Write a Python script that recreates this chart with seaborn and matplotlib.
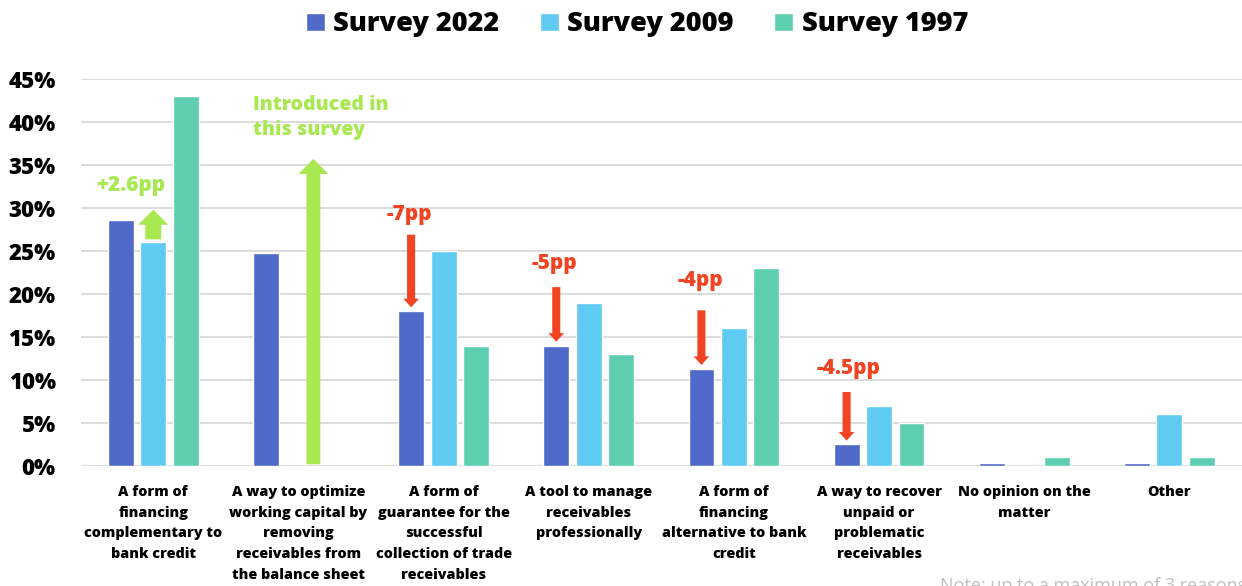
import matplotlib
matplotlib.use("Agg")
import matplotlib.pyplot as plt
from matplotlib.ticker import FuncFormatter, MultipleLocator
import numpy as np
import pandas as pd
import seaborn as sns

# Reasons for using factoring, share of respondents (%)
reasons = [
    "A form of\nfinancing\ncomplementary to\nbank credit",
    "A way to optimize\nworking capital by\nremoving\nreceivables from\nthe balance sheet",
    "A form of\nguarantee for the\nsuccessful\ncollection of trade\nreceivables",
    "A tool to manage\nreceivables\nprofessionally",
    "A form of\nfinancing\nalternative to bank\ncredit",
    "A way to recover\nunpaid or\nproblematic\nreceivables",
    "No opinion on the\nmatter",
    "Other",
]
surveys = ["Survey 2022", "Survey 2009", "Survey 1997"]
survey_2022 = [28.6, 24.8, 18.0, 14.0, 11.3, 2.5, 0.4, 0.4]
survey_2009 = [26.0, np.nan, 25.0, 19.0, 16.0, 7.0, 0.0, 6.0]
survey_1997 = [43.0, np.nan, 14.0, 13.0, 23.0, 5.0, 1.0, 1.0]

# Change labels 2022 vs 2009
change_labels = ["+2.6pp", "-7pp", "-5pp", "-4pp", "-4.5pp"]

colors = ["#4F6AC8", "#5FCBF3", "#5DCFB0"]
green = "#A8E850"
red = "#F04423"

df = pd.DataFrame({
    "reason": reasons * 3,
    "share": survey_2022 + survey_2009 + survey_1997,
    "survey": [s for s in surveys for _ in reasons],
})

sns.set_theme(style="white")
plt.rcParams["font.family"] = ["Open Sans", "DejaVu Sans"]
HEAVY = 800

fig = plt.figure(figsize=(12.42, 5.86), dpi=100)
ax = fig.add_axes([0.065, 0.2048, 0.935, 0.6604])

sns.barplot(data=df, x="reason", y="share", hue="survey", hue_order=surveys,
            order=reasons, palette=colors, width=0.67, gap=0.2,
            errorbar=None, saturation=1, ax=ax)

ax.set_xlim(-0.5, len(reasons) - 0.5)
ax.set_ylim(0, 45)
ax.yaxis.set_major_locator(MultipleLocator(5))
ax.yaxis.set_major_formatter(FuncFormatter(lambda v, _: f"{v:.0f}%"))
ax.yaxis.grid(True, color="#D9D9D9", lw=1.3)
ax.set_axisbelow(True)
for sp in ax.spines.values():
    sp.set_visible(False)
ax.set_xlabel("")
ax.set_ylabel("")
ax.tick_params(axis="y", length=0, pad=18, labelsize=16, labelcolor="black")
ax.tick_params(axis="x", length=0, pad=13.5, labelsize=10.4, labelcolor="black")
for lab in ax.get_yticklabels():
    lab.set_fontweight(HEAVY)
for lab in ax.get_xticklabels():
    lab.set_fontweight(HEAVY)
    lab.set_linespacing(1.62)
    lab.set_verticalalignment("top")

# Legend across the top
handles, labels = ax.get_legend_handles_labels()
ax.get_legend().remove()
leg = fig.legend(handles, labels, loc="upper center", bbox_to_anchor=(0.513, 1.022),
                 ncol=3, frameon=False, fontsize=19.5, handlelength=0.7,
                 handleheight=0.7, handletextpad=0.3, columnspacing=1.5)
for t in leg.get_texts():
    t.set_fontweight(HEAVY)
    t.set_color("black")

off = 0.224  # dodge offset of each survey within a group


def block_arrow(x, y0, y1, color, tail, head_w, head_l):
    ax.annotate("", xy=(x, y1), xytext=(x, y0),
                arrowprops=dict(arrowstyle=f"simple,head_width={head_w},head_length={head_l},tail_width={tail}",
                                mutation_scale=1, color=color, shrinkA=0, shrinkB=0, lw=0))


# Increase on the first reason
block_arrow(0, survey_2009[0] + 0.35, 29.8, green, 11.5, 21.6, 10.8)
ax.text(-0.395, 32.6, change_labels[0], color=green, fontsize=15, fontweight=HEAVY,
        ha="left", va="center")

# New answer option in this survey
block_arrow(1 + 0.103, 0.2, 35.7, green, 10, 21.6, 10.8)
ax.text(0.686, 40.5, "Introduced in\nthis survey", color=green, fontsize=14,
        fontweight=HEAVY, ha="left", va="center", linespacing=1.35)

# Declines vs 2009
drops = [(2, 26.9, 1.609, 29.3), (3, 20.8, 2.608, 23.6),
         (4, 18.1, 3.614, 21.6), (5, 8.6, 4.57, 11.3)]
for (i, start, tx, ty), lab in zip(drops, change_labels[1:]):
    block_arrow(i - off, start, survey_2022[i] + 0.45, red, 5.8, 11.3, 6.2)
    ax.text(tx, ty, lab, color=red, fontsize=15, fontweight=HEAVY,
            ha="left", va="center")

fig.text(940 / 1242, 1 - 577 / 586, "Note: up to a maximum of 3 reasons",
         color="#BFBFBF", fontsize=13, ha="left", va="top")

fig.savefig("out.png", dpi=100)
